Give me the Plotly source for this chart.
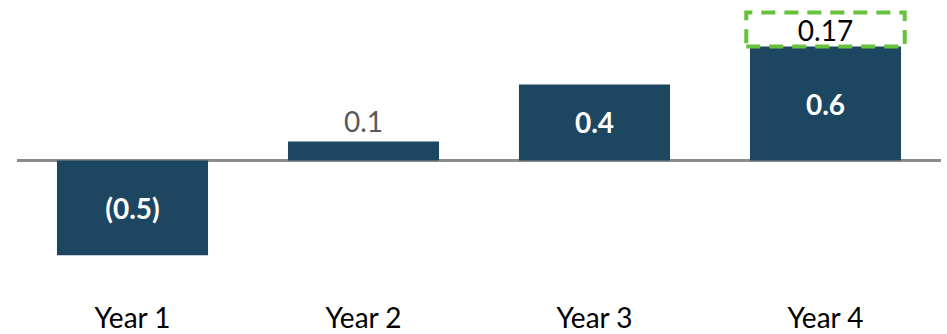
import plotly.graph_objects as go

categories = ["Year 1", "Year 2", "Year 3", "Year 4"]
values = [-0.5, 0.1, 0.4, 0.6]
value_labels = ["<b>(0.5)</b>", "0.1", "<b>0.4</b>", "<b>0.6</b>"]
extra_category = ["Year 4"]
extra_values = [0.17]
extra_labels = ["0.17"]

BAR_COLOR = "#1d4660"
GREEN = "#66c23a"
FONT = "Lato"

fig = go.Figure()
fig.add_trace(go.Bar(
    x=categories, y=values, text=value_labels,
    textposition=["inside", "outside", "inside", "inside"],
    insidetextanchor="middle",
    constraintext="none",
    textfont=dict(family=FONT, size=28,
                  color=["white", "#595959", "white", "white"]),
    marker=dict(color=BAR_COLOR, line=dict(width=0)),
    hoverinfo="skip",
))
fig.add_trace(go.Bar(
    x=extra_category, y=extra_values, text=extra_labels,
    textposition="inside", insidetextanchor="middle",
    constraintext="none",
    textfont=dict(family=FONT, size=28, color="black"),
    marker=dict(color="rgba(0,0,0,0)", line=dict(width=0)),
    hoverinfo="skip",
))

bar_width = 0.654
idx = categories.index(extra_category[0])
base = values[idx]
half = 0.343
fig.add_shape(type="rect", xref="x", yref="y",
              x0=idx - half, x1=idx + half,
              y0=base, y1=base + extra_values[0] + 0.01,
              line=dict(color=GREEN, width=4, dash="14px,9px"),
              fillcolor="rgba(0,0,0,0)", layer="above")

fig.update_layout(
    width=947, height=334,
    margin=dict(l=17, r=6, t=0, b=38),
    barmode="relative",
    bargap=1 - bar_width,
    showlegend=False,
    plot_bgcolor="white", paper_bgcolor="white",
    font=dict(family=FONT, size=28, color="black"),
)
fig.update_xaxes(showgrid=False, showline=False, ticks="",
                 ticklabelstandoff=5,
                 tickfont=dict(family=FONT, size=28, color="black"))
fig.update_yaxes(range=[-0.704, 0.8455], showgrid=False, showticklabels=False,
                 zeroline=True, zerolinecolor="#8c8c8c", zerolinewidth=2.5)

fig.write_html("out.html")
